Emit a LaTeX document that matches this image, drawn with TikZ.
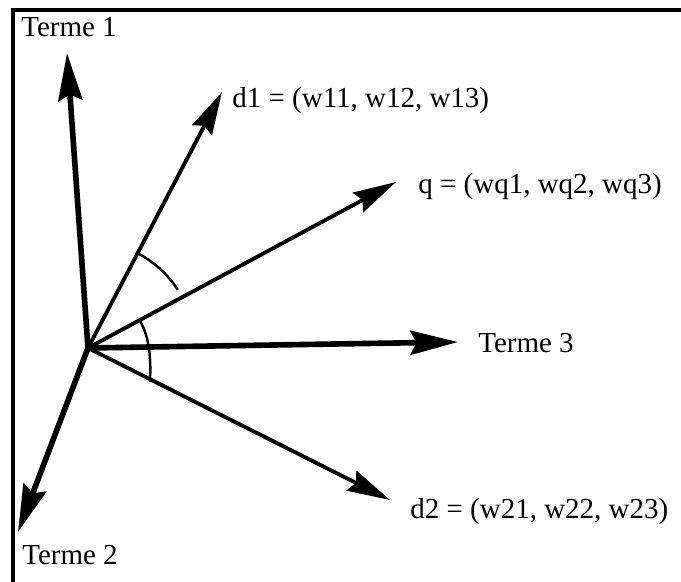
\documentclass[tikz,border=0pt]{standalone}
\usepackage{fontspec}
\setmainfont{Liberation Serif}
\usetikzlibrary{arrows.meta}

\begin{document}
\begin{tikzpicture}[x=0.02cm,y=-0.02cm,
  terme/.style={line width=3.2pt,-{Stealth[length=0.95cm,width=0.48cm,inset=0.12cm]}},
  vect/.style={line width=2.2pt,-{Stealth[length=0.86cm,width=0.44cm,inset=0.1cm]}},
  angmark/.style={line width=1.4pt},
  lab/.style={font=\fontsize{16.5}{19}\selectfont,inner sep=0pt}]
\useasboundingbox(0,0)rectangle(681,582);
% cadre
\draw[line width=2pt](13,582)--(13,10)--(681,10);
% origine et extremites
\coordinate(O)at(88,348);
\coordinate(t1)at(67,53);
\coordinate(t2)at(18,532);
\coordinate(t3)at(458,342);
\coordinate(d1)at(222,92);
\coordinate(q)at(396,182);
\coordinate(d2)at(390,500);
% axes des termes
\draw[terme](O)--(t1);
\draw[terme](O)--(t2);
\draw[terme](O)--(t3);
% vecteurs
\draw[vect](O)--(d1);
\draw[vect](O)--(q);
\draw[vect](O)--(d2);
% angles
\draw[angmark](O)++(-62:107)arc[start angle=-62,end angle=-33,radius=107];
\draw[angmark](140,321)..controls(150,338)and(151,360)..(150,382);
% textes
\node[lab,anchor=west](l1)at(21,27){Terme 1};
\node[lab,anchor=west](l2)at(22,555){Terme 2};
\node[lab,anchor=west](l3)at(478,343){Terme 3};
\node[lab,anchor=west](ld1)at(232,101){d1 = (w11, w12, w13)};
\node[lab,anchor=west](lq)at(418,187){q = (wq1, wq2, wq3)};
\node[lab,anchor=west](ld2)at(410,512){d2 = (w21, w22, w23)};
\end{tikzpicture}
\end{document}
